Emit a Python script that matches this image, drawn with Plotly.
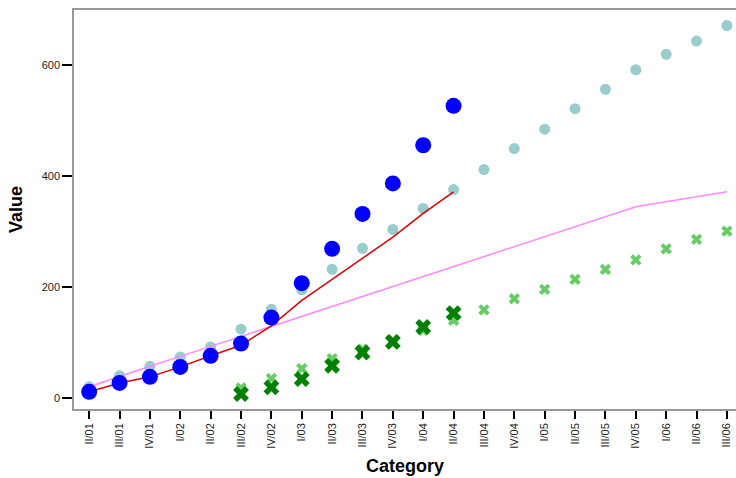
import plotly.graph_objects as go

categories = ["II/01", "III/01", "IV/01", "I/02", "II/02", "III/02", "IV/02", "I/03",
              "II/03", "III/03", "IV/03", "I/04", "II/04", "III/04", "IV/04", "I/05",
              "II/05", "III/05", "IV/05", "I/06", "II/06", "III/06"]

teal_values = [20, 40, 57, 74, 92, 124, 160, 195, 232, 270, 304, 342, 376, 412, 450,
               485, 522, 557, 592, 620, 644, 672]
blue_values = [11, 27, 38, 56, 76, 98, 145, 207, 269, 332, 387, 456, 527]
red_values = [11, 27, 38, 56, 76, 95, 130, 176, 214, 252, 290, 333, 372]
pink_values = [20, 39, 57, 75, 93, 111, 130, 147, 165, 183, 201, 219, 237, 255, 273,
               291, 309, 327, 345, 354, 363, 372]
light_green_values = [18, 35, 53, 71, 88, 104, 122, 140, 159, 179, 196, 214, 232, 249,
                      269, 286, 301]
dark_green_values = [7, 19, 34, 58, 82, 101, 128, 153]

green_start = 5  # III/02

fig = go.Figure()
fig.add_trace(go.Scatter(x=categories, y=teal_values, mode="markers",
                         marker=dict(color="#99cccc", size=11)))
fig.add_trace(go.Scatter(x=categories, y=pink_values, mode="lines",
                         line=dict(color="#ff88ff", width=1.5)))
fig.add_trace(go.Scatter(x=categories[green_start:green_start + len(light_green_values)],
                         y=light_green_values, mode="markers",
                         marker=dict(color="#66cc66", size=10, symbol="x")))
fig.add_trace(go.Scatter(x=categories[:len(red_values)], y=red_values, mode="lines",
                         line=dict(color="#dd0000", width=1.5)))
fig.add_trace(go.Scatter(x=categories[green_start:green_start + len(dark_green_values)],
                         y=dark_green_values, mode="markers",
                         marker=dict(color="#008000", size=14, symbol="x")))
fig.add_trace(go.Scatter(x=categories[:len(blue_values)], y=blue_values, mode="markers",
                         marker=dict(color="#0000ff", size=16)))

axis_common = dict(showline=True, linecolor="#999999", linewidth=1.5,
                   showgrid=False, zeroline=False, ticks="outside", tickcolor="black",
                   tickwidth=2, tickfont=dict(family="Liberation Sans, Arial", size=11, color="#222"))

fig.update_layout(
    width=736, height=478,
    margin=dict(l=74, r=0, t=10, b=69),
    paper_bgcolor="white", plot_bgcolor="white",
    showlegend=False,
    font=dict(family="Liberation Sans, Arial", color="black"),
)
fig.update_xaxes(**axis_common, mirror=True, ticklen=8, tickangle=-90, type="category",
                 range=[-0.5, 21.3],
                 title=dict(text="<b>Category</b>", font=dict(size=18), standoff=12))
fig.update_yaxes(**axis_common, mirror=False, ticklen=10, range=[-20, 700],
                 tickvals=[0, 200, 400, 600],
                 title=dict(text="<b>Value</b>", font=dict(size=18), standoff=14))

fig.write_html("out.html", config={"displayModeBar": False},
               post_script="document.body.style.margin='0';document.body.style.overflow='hidden';")
